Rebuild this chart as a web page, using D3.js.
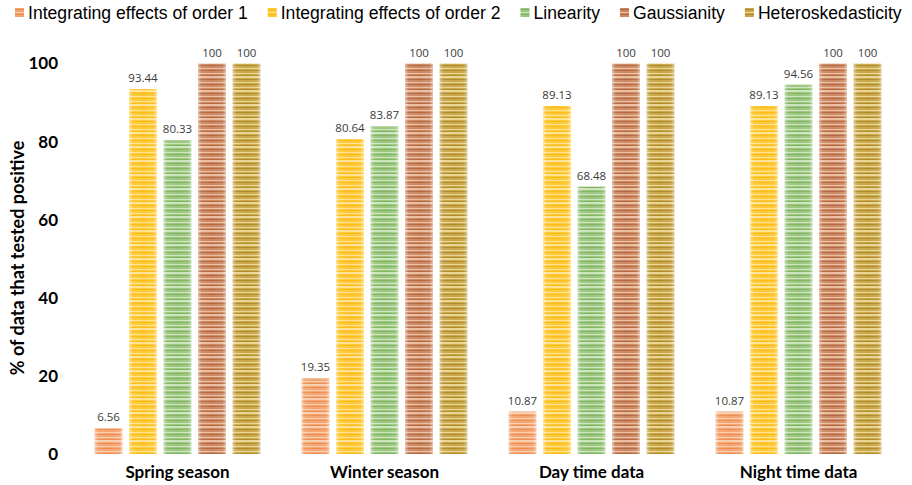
<!DOCTYPE html>
<html>
<head>
<meta charset="utf-8">
<script src="https://cdn.jsdelivr.net/npm/d3@7"></script>
<style>
  html, body { margin: 0; padding: 0; background: #fff; }
  svg { display: block; }
</style>
</head>
<body>
<svg id="chart" width="912" height="485"></svg>
<script>
// Data
const categories = ["Spring season", "Winter season", "Day time data", "Night time data"];
const seriesNames = ["Integrating effects of order 1", "Integrating effects of order 2", "Linearity", "Gaussianity", "Heteroskedasticity"];
const order1 = [6.56, 19.35, 10.87, 10.87];
const order2 = [93.44, 80.64, 89.13, 89.13];
const linearity = [80.33, 83.87, 68.48, 94.56];
const gaussianity = [100, 100, 100, 100];
const heteroskedasticity = [100, 100, 100, 100];
const yTicks = [0, 20, 40, 60, 80, 100];

const seriesValues = [order1, order2, linearity, gaussianity, heteroskedasticity];

// Striped fills: mid tone, light stripe, dark stripe
const palettes = [
  { mid: "#F4A46E", light: "#F9CDAF", dark: "#EC8B4F" },
  { mid: "#FFC835", light: "#FFE390", dark: "#FBBA12" },
  { mid: "#9BC67F", light: "#CCE4BC", dark: "#7DB35C" },
  { mid: "#CB8862", light: "#EBBDA1", dark: "#B2663D" },
  { mid: "#C9A748", light: "#E9D492", dark: "#AE8826" }
];

const svg = d3.select("#chart");

const x0 = d3.scaleBand().domain(categories).range([74, 902]).paddingInner(0).paddingOuter(0);
const x1 = d3.scaleBand().domain(seriesNames).range([-86.25, 86.25]).paddingInner(0.2).paddingOuter(0.1);
const y = d3.scaleLinear().domain([0, 100]).range([454, 63.5]);

// Pattern definitions
const defs = svg.append("defs");
const stripeRows = [
  [0, 1, "dark"], [1, 2, "mid"], [3, 1, "light"], [4, 1, "mid"], [5, 1, "dark"],
  [6, 2, "light"], [8, 1, "mid"], [9, 1, "dark"], [10, 2, "mid"], [12, 1, "light"], [13, 1, "mid"]
];
palettes.forEach((p, i) => {
  const pat = defs.append("pattern")
    .attr("id", "stripe" + i)
    .attr("patternUnits", "userSpaceOnUse")
    .attr("width", 10).attr("height", 14);
  pat.append("rect").attr("width", 10).attr("height", 14).attr("fill", p.mid);
  stripeRows.forEach(r => {
    pat.append("rect").attr("x", 0).attr("y", r[0]).attr("width", 10).attr("height", r[1]).attr("fill", p[r[2]]);
  });
});
// Soft light edges on each bar
const edge = defs.append("linearGradient").attr("id", "edgeGlow").attr("x1", 0).attr("x2", 1).attr("y1", 0).attr("y2", 0);
[[0, 0.45], [0.12, 0.08], [0.5, 0], [0.88, 0.08], [1, 0.45]].forEach(s => {
  edge.append("stop").attr("offset", s[0]).attr("stop-color", "#fff").attr("stop-opacity", s[1]);
});

// Bars
const groups = svg.append("g").selectAll("g")
  .data(categories)
  .join("g")
  .attr("transform", d => `translate(${x0(d) + x0.bandwidth() / 2},0)`);

groups.each(function(cat, ci) {
  const g = d3.select(this);
  seriesNames.forEach((s, si) => {
    const v = seriesValues[si][ci];
    const bx = x1(s), bw = x1.bandwidth();
    g.append("rect")
      .attr("x", bx).attr("y", y(v))
      .attr("width", bw).attr("height", y(0) - y(v))
      .attr("fill", `url(#stripe${si})`);
    g.append("rect")
      .attr("x", bx).attr("y", y(v))
      .attr("width", bw).attr("height", y(0) - y(v))
      .attr("fill", "url(#edgeGlow)");
    g.append("text")
      .attr("x", bx + bw / 2).attr("y", y(v) - 7)
      .attr("text-anchor", "middle")
      .attr("font-family", "'Open Sans', sans-serif")
      .attr("font-size", 11.5)
      .attr("fill", "#3a3a3a")
      .text(v);
  });
});

// Y axis tick labels
const yAxis = d3.axisLeft(y).tickValues(yTicks).tickSize(0).tickPadding(0);
const yG = svg.append("g").attr("transform", "translate(58,0)").call(yAxis);
yG.select(".domain").remove();
yG.selectAll("text")
  .attr("font-family", "Lato, sans-serif")
  .attr("font-weight", "bold")
  .attr("font-size", 17)
  .attr("fill", "#000");

// Category labels
const xAxis = d3.axisBottom(x0).tickSize(0).tickPadding(0);
const xG = svg.append("g").attr("transform", "translate(0,466)").call(xAxis);
xG.select(".domain").remove();
xG.selectAll("text")
  .attr("font-family", "Lato, sans-serif")
  .attr("font-weight", "bold")
  .attr("font-size", 17)
  .attr("fill", "#000");

// Y axis title
svg.append("text")
  .attr("transform", "translate(24,258) rotate(-90)")
  .attr("text-anchor", "middle")
  .attr("font-family", "Lato, sans-serif")
  .attr("font-weight", "bold")
  .attr("font-size", 18)
  .attr("fill", "#000")
  .text("% of data that tested positive");

// Legend
const legend = svg.append("g");
let lx = 15;
seriesNames.forEach((s, i) => {
  const item = legend.append("g").attr("transform", `translate(${lx},0)`);
  item.append("rect").attr("x", 0).attr("y", 8).attr("width", 9).attr("height", 9)
    .attr("fill", `url(#stripe${i})`);
  const t = item.append("text")
    .attr("x", 13).attr("y", 19)
    .attr("font-family", "'Liberation Sans', Arial, sans-serif")
    .attr("font-size", 17.6)
    .attr("fill", "#000")
    .text(s);
  lx += 13 + t.node().getComputedTextLength() + 20;
});
</script>
</body>
</html>
